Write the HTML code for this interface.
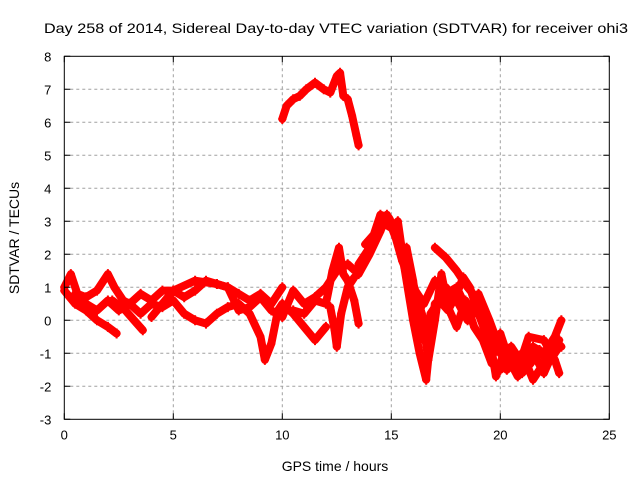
<!DOCTYPE html>
<html><head><meta charset="utf-8"><style>
body{margin:0;background:#fff}
svg{display:block;font-family:"Liberation Sans",sans-serif}
</style></head><body>
<svg id="c" width="640" height="480">
<text x="44" y="33" textLength="584" lengthAdjust="spacingAndGlyphs" font-size="14">Day 258 of 2014, Sidereal Day-to-day VTEC variation (SDTVAR) for receiver ohi3</text>
<text x="335" y="471" text-anchor="middle" font-size="14">GPS time / hours</text>
<text transform="translate(19,238) rotate(-90)" text-anchor="middle" font-size="14">SDTVAR / TECUs</text>
<g id="grid"></g><g id="marks"></g><g id="axes"></g>
</svg>
<script>
const xTicks=[0,5,10,15,20,25];
const yTicks=[-3,-2,-1,0,1,2,3,4,5,6,7,8];
const trackTop=[[10,6.1],[10.2,6.5],[10.5,6.7],[10.8,6.8],[11.1,7.0],[11.5,7.2],[11.9,7.0],[12.2,6.9],[12.5,7.4],[12.65,7.5],[12.8,6.8],[13,6.7],[13.2,6.2],[13.4,5.6],[13.5,5.3]];
const trackA=[[0,1.0],[0.3,1.4],[0.6,0.8],[1,0.7],[1.5,0.9],[2,1.4],[2.3,1.0],[2.7,0.6],[3,0.5],[3.5,0.8],[4,0.6],[4.5,0.9],[5,0.9],[5.5,0.7],[6,0.9],[6.5,1.2],[7,1.1],[7.5,1.0],[8,0.8],[8.5,0.6],[9,0.8],[9.5,0.5],[10,1.0]];
const trackB=[[0,0.9],[0.5,0.5],[1,0.3],[1.5,0.0],[2,-0.2],[2.4,-0.4]];
const trackB2=[[2.2,0.6],[2.8,0.3],[3.2,0.0],[3.6,-0.3]];
const trackC=[[0.5,0.8],[1,0.5],[1.5,0.3],[2,0.6],[2.5,0.3],[3,0.5],[3.5,0.2],[4,0.5],[4.5,0.4],[5,0.6],[5.5,0.2],[6,0.0],[6.5,-0.1],[7,0.2],[7.5,0.4],[8,0.5],[8.5,0.2],[9,-0.5],[9.2,-1.2],[9.5,-0.7],[9.8,0.3],[10,0.5],[10.5,0.2],[11,-0.2],[11.5,-0.6],[12,-0.2]];
const trackD=[[4,0.1],[5,0.9],[6,1.2],[7,1.1],[7.5,1.0],[8,0.3],[8.5,0.4],[9,0.7],[9.5,0.3],[10,0.1],[10.5,0.9],[11,0.5],[11.5,0.7],[12,1.0],[12.5,1.5],[13,1.7],[13.5,1.4],[14,2.0],[14.5,2.7],[14.8,3.2],[15.2,2.5],[15.5,1.8],[16,1.0],[16.5,0.5],[17,1.2],[17.5,1.0],[18,0.6],[18.5,0.0],[19,0.4],[19.5,-0.3],[20,-1.0],[20.5,-0.8],[21,-1.3],[21.5,-0.8],[22,-1.0],[22.5,-0.5],[22.8,0.0]];
const trackE=[[10.5,0.3],[11,0.2],[11.5,0.6],[12,0.5],[12.3,1.5],[12.6,2.2],[12.8,1.4],[13,1.2],[13.3,0.6],[13.5,-0.1]];
const trackE2=[[12.2,0.4],[12.4,-0.3],[12.5,-0.8],[12.7,0.2],[13,1.0],[13.3,1.3]];
const trackF=[[13.5,1.7],[14,2.2],[14.5,3.0],[15,2.8],[15.3,3.0],[15.6,1.6],[16,0.0],[16.3,-1.0],[16.6,-1.8],[16.8,-0.5],[17,0.5],[17.5,0.8],[18,1.0],[18.5,0.3],[19,0.8],[19.5,0.0],[20,-0.9],[20.3,-1.5],[21,-1.0],[21.5,-1.8],[22,-1.3],[22.5,-0.6],[22.8,-0.8]];
const trackG=[[17,2.2],[17.5,1.9],[18,1.5],[18.5,1.0],[19,0.6],[19.5,-0.5],[19.8,-1.7],[20.2,-0.9],[20.8,-1.5],[21.3,-0.5],[22,-0.6],[22.5,-1.2],[22.7,-1.6]];
const trackH=[[13.8,2.3],[14.2,2.6],[14.5,3.2],[14.9,3.1],[15.2,2.7],[15.4,2.1],[15.7,2.2],[16,1.2],[16.2,0.3],[16.5,-0.6],[16.8,0.2],[17.2,0.6],[17.6,0.3],[18,0.8],[18.3,1.3],[18.6,1.0],[19,0.2],[19.4,-0.5],[19.7,-1.0],[20,-0.4],[20.4,-1.2],[20.8,-1.7],[21.2,-1.4],[21.6,-1.1],[22,-1.6],[22.4,-1.0],[22.7,-0.6]];
const trackI=[[15.8,1.5],[16.1,0.9],[16.4,0.2],[16.7,-1.2],[17,0.0],[17.3,1.4],[17.6,0.4],[18,-0.2],[18.4,0.6],[18.8,-0.2],[19.2,-0.6],[19.6,-1.3],[20,-1.5],[20.6,-1.1],[21,-1.6],[21.4,-1.3],[21.8,-0.9],[22.2,-1.3],[22.6,-0.9]];
const tracks=[trackTop,trackA,trackB,trackB2,trackC,trackD,trackE,trackE2,trackF,trackG,trackH,trackI];
const X0=64.3,X1=609.3,Y0=419.3,Y1=56.3;
const sx=t=>X0+(t-0)/25*(X1-X0);
const sy=v=>Y0-(v+3)/11*(Y0-Y1);
const NS="http://www.w3.org/2000/svg";
function mk(tag,attrs,parent){const e=document.createElementNS(NS,tag);for(const k in attrs)e.setAttribute(k,attrs[k]);parent.appendChild(e);return e;}
const grid=document.getElementById('grid'),axes=document.getElementById('axes'),marks=document.getElementById('marks');
xTicks.forEach(t=>{
  if(t>0&&t<25){const g=mk('line',{x1:sx(t),x2:sx(t),y1:Y1,y2:Y0,stroke:'#a0a0a0','stroke-dasharray':'3,3'},grid);
  
  }
  const tk=mk('path',{d:`M${sx(t)},${Y0}v-6M${sx(t)},${Y1}v6`,stroke:'#000'},axes);
  
  
  const l=mk('text',{x:sx(t),y:Y0+20,'text-anchor':'middle','font-size':13},axes);l.textContent=t;
  
  
});
yTicks.forEach(v=>{
  if(v>-3&&v<8){const g=mk('line',{x1:X0,x2:X1,y1:sy(v),y2:sy(v),stroke:'#a0a0a0','stroke-dasharray':'3,3'},grid);
  
  }
  const tk=mk('path',{d:`M${X0},${sy(v)}h6M${X1},${sy(v)}h-6`,stroke:'#000'},axes);
  
  
  const l=mk('text',{x:X0-13,y:sy(v)+5,'text-anchor':'end','font-size':13},axes);l.textContent=v;
  
  
});
const frame=mk('rect',{x:X0,y:Y1,width:X1-X0,height:Y0-Y1,fill:'none',stroke:'#000'},axes);


tracks.forEach(tr=>{
  const pl=mk('polyline',{points:tr.map(p=>sx(p[0])+','+sy(p[1])).join(' '),fill:'none',stroke:'#f00','stroke-width':8,'stroke-linejoin':'round','stroke-linecap':'round'},marks);
  
  
  tr.forEach(p=>{
    const m=mk('path',{d:`M${sx(p[0])-4},${sy(p[1])}h8M${sx(p[0])},${sy(p[1])-5}v10`,stroke:'#f00','stroke-width':2},marks);
    
    
  });
});
</script>
</body></html>
